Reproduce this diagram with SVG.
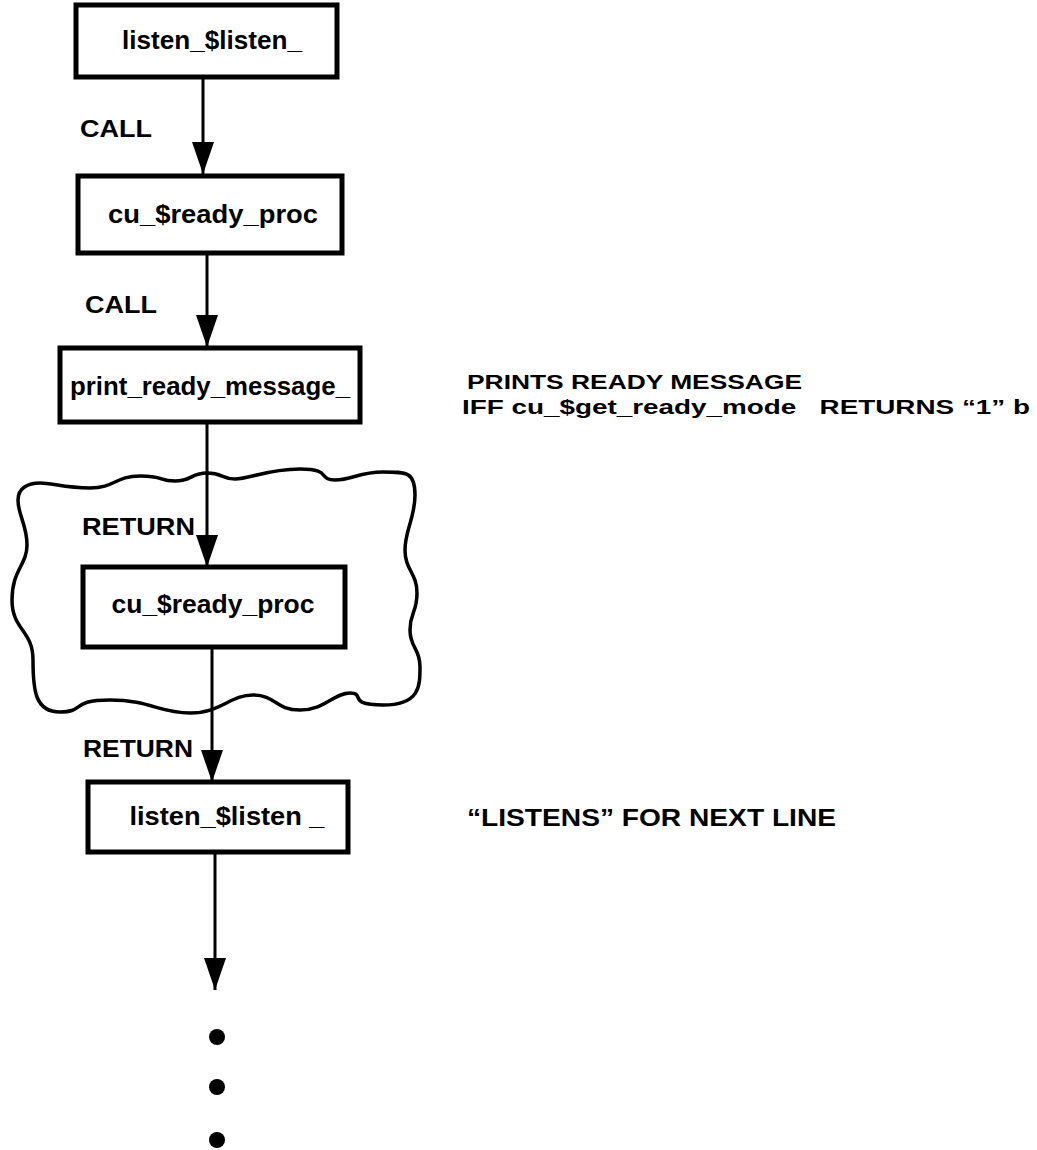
<svg xmlns="http://www.w3.org/2000/svg" width="1037" height="1150" viewBox="0 0 1037 1150">
<style>
.box{fill:#fff;stroke:#000;stroke-width:5}
.lbl{font-family:"Liberation Sans",Arial,sans-serif;font-weight:bold;font-size:23px;fill:#000}
.note{font-family:"Liberation Sans",Arial,sans-serif;font-weight:bold;font-size:21px;fill:#000}
.nt{font-family:"Liberation Sans",Arial,sans-serif;font-weight:bold;font-size:25px;fill:#000;text-anchor:middle}
.conn{stroke:#000;stroke-width:3;fill:none}
</style>
<defs>
<marker id="arr" markerUnits="userSpaceOnUse" markerWidth="32" markerHeight="22" refX="32" refY="11" orient="auto">
<path d="M0,0 L32,11 L0,22 Z" fill="#000"/>
</marker>
</defs>
<rect width="1037" height="1150" fill="#fff"/>
<g id="cloud">
<path d="M 18,500 C 18,488 28,483 40,483 S 65,488 90,488 S 115,476 140,476 S 158,481 175,481 S 191,473 207,473 S 221,479 235,479 S 268,469 300,469 S 318,480 335,480 S 359,472 383,472 S 415,472 415,495 S 405,530 405,550 S 417,573 417,593 S 410,612 410,630 S 420,648 420,667 S 420,705 383,705 S 366,693 350,693 S 325,710 300,710 S 276,695 253,695 S 221,713 190,713 S 150,700 110,700 S 85,712 60,712 S 33,690 33,660 S 12,630 12,600 S 27,565 27,545 S 18,515 18,500 Z" fill="none" stroke="#000" stroke-width="3.5"/>
</g>
<g id="connectors">
<line class="conn" x1="203" y1="78" x2="203" y2="174" marker-end="url(#arr)"/>
<line class="conn" x1="207" y1="253" x2="207" y2="347" marker-end="url(#arr)"/>
<line class="conn" x1="207" y1="422" x2="207" y2="567" marker-end="url(#arr)"/>
<line class="conn" x1="212" y1="647" x2="212" y2="782" marker-end="url(#arr)"/>
<line class="conn" x1="215" y1="852" x2="215" y2="990" marker-end="url(#arr)"/>
<text class="lbl" x="80" y="137" textLength="72" lengthAdjust="spacingAndGlyphs">CALL</text>
<text class="lbl" x="85" y="313" textLength="72" lengthAdjust="spacingAndGlyphs">CALL</text>
<text class="lbl" x="82" y="535" textLength="113" lengthAdjust="spacingAndGlyphs">RETURN</text>
<text class="lbl" x="83" y="757" textLength="110" lengthAdjust="spacingAndGlyphs">RETURN</text>
</g>
<g id="n1">
<rect class="box" x="76" y="5" width="261" height="72"/>
<text class="nt" x="212" y="49" textLength="180" lengthAdjust="spacingAndGlyphs">listen_$listen_</text>
</g>
<g id="n2">
<rect class="box" x="78" y="176" width="264" height="77"/>
<text class="nt" x="213" y="223" textLength="210" lengthAdjust="spacingAndGlyphs">cu_$ready_proc</text>
</g>
<g id="n3">
<rect class="box" x="60" y="348" width="300" height="74"/>
<text class="nt" x="210" y="395" textLength="280" lengthAdjust="spacingAndGlyphs">print_ready_message_</text>
</g>
<g id="n4">
<rect class="box" x="83" y="567" width="262" height="80"/>
<text class="nt" x="213" y="613" textLength="203" lengthAdjust="spacingAndGlyphs">cu_$ready_proc</text>
</g>
<g id="n5">
<rect class="box" x="88" y="782" width="260" height="70"/>
<text class="nt" x="227" y="825" textLength="195" lengthAdjust="spacingAndGlyphs">listen_$listen _</text>
</g>
<g id="notes">
<text class="note" x="467" y="389" textLength="335" lengthAdjust="spacingAndGlyphs">PRINTS READY MESSAGE</text>
<text class="note" x="462" y="414" textLength="568" lengthAdjust="spacingAndGlyphs" xml:space="preserve">IFF cu_$get_ready_mode   RETURNS “1” b</text>
<text class="lbl" x="467" y="826" textLength="369" lengthAdjust="spacingAndGlyphs">“LISTENS” FOR NEXT LINE</text>
</g>
<g id="dots">
<circle cx="217" cy="1037" r="8" fill="#000"/>
<circle cx="217" cy="1087" r="8" fill="#000"/>
<circle cx="217" cy="1140" r="8" fill="#000"/>
</g>
</svg>
